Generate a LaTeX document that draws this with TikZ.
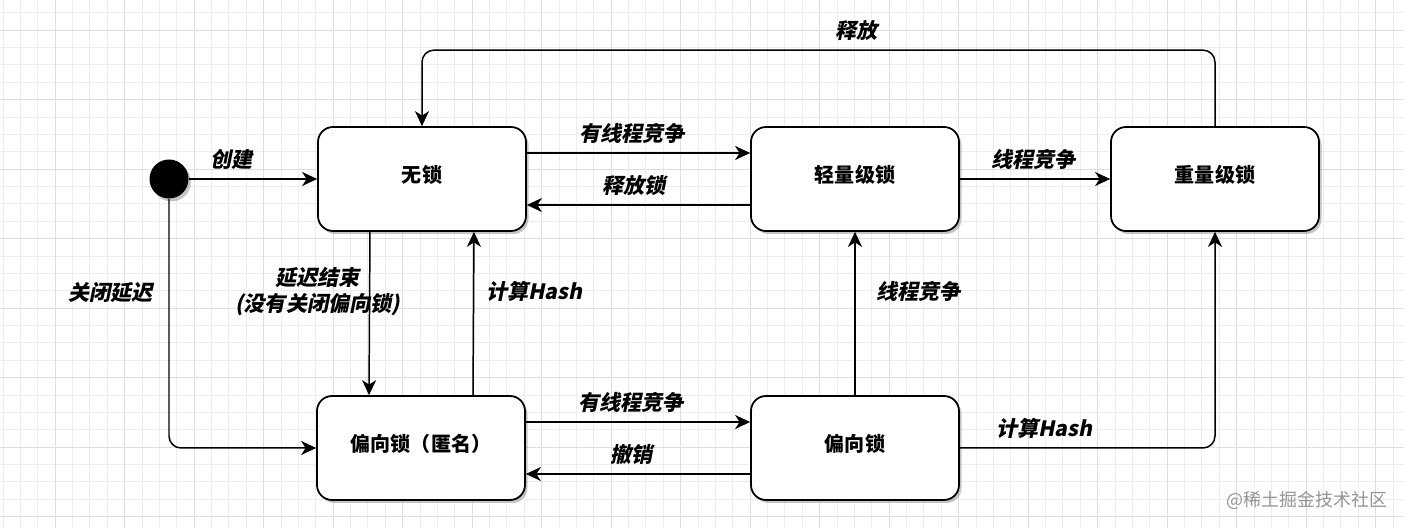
\documentclass[tikz,border=0pt]{standalone}
\usepackage{fontspec}
\usepackage{tikz}
\usetikzlibrary{arrows.meta,shadows,positioning}
\newfontfamily\cjk{Noto Sans CJK SC}
\newfontfamily\cjkit[FakeSlant=0.2]{Noto Sans CJK SC}
\pgfdeclarelayer{bg}
\pgfsetlayers{bg,main}

\begin{document}
\begin{tikzpicture}[
			x=0.2mm, y=-0.2mm,
			every node/.style={font=\cjk\bfseries\fontsize{11.4}{14}\selectfont},
			state/.style={draw, line width=1pt, rounded corners=3mm, fill=white,
				minimum width=41.6mm, minimum height=20.8mm, text height=10pt, text depth=5.6pt,
				drop shadow={shadow xshift=0.5mm, shadow yshift=-0.6mm, fill=black!50, opacity=0.45}},
			lbl/.style={font=\cjkit\bfseries\fontsize{12}{15}\selectfont, align=center},
			edge/.style={line width=0.85pt, rounded corners=2.4mm,
				-{Stealth[length=3mm, width=2.8mm, inset=0.9mm]}},
			gridminor/.style={black!7, line width=0.4pt},
			gridmajor/.style={black!13, line width=0.5pt}
			]
			\def\q{5.2mm}
			\def\h{10.4mm}

			\useasboundingbox (0,0) rectangle (1404,528);
			\begin{pgfonlayer}{bg}
				\fill[white] (0,0) rectangle (1404,528);
				\clip (0,0) rectangle (1404,528);
				\foreach \i in {1,...,81} \draw[gridminor] ({-14.5+\i*17.375},0) -- ++(0,528);
				\foreach \i in {1,...,30} \draw[gridminor] (0,{-4.75+\i*17.375}) -- ++(1404,0);
				\foreach \i in {1,...,20} \draw[gridmajor] ({-14.5+\i*69.5},0) -- ++(0,528);
				\foreach \i in {0,...,7} \draw[gridmajor] (0,{30+\i*69.5}) -- ++(1404,0);
			\end{pgfonlayer}

			\node[circle, fill=black, minimum size=7.8mm, inner sep=0pt,
				drop shadow={shadow xshift=0.5mm, shadow yshift=-0.6mm, fill=black!50, opacity=0.45}] (init) at (169,179) {};

			\node[state] (nolock) at (422,179) {无锁};
			\node[state] (light) at (855,179) {轻量级锁};
			\node[state] (heavy) at (1215,179) {重量级锁};
			\node[state] (anon) at (421,448) {偏向锁（匿名）};
			\node[state] (biased) at (855,448) {偏向锁};

			\draw[edge] (init) -- node[lbl, above=1.5pt, pos=0.33] (lcreate) {创建} (nolock);
			\draw[edge] ([yshift=\q]nolock.east) -- node[lbl, above=1.5pt, pos=0.47] (lcont1) {有线程竞争} ([yshift=\q]light.west);
			\draw[edge] ([yshift=-\q]light.west) -- node[lbl, above=1.5pt, pos=0.52] (lrellock) {释放锁} ([yshift=-\q]nolock.east);
			\draw[edge] (light) -- node[lbl, above=1.5pt, pos=0.49] (lcont2) {线程竞争} (heavy);
			\draw[edge] (heavy.north) -- ([yshift=15.2mm]heavy.north) -| node[lbl, above=1.5pt, pos=0.226] (lrel) {释放} (nolock.north);

			\draw[edge] (init) |- node[lbl, left=2mm, pos=0.188] (lclose) {关闭延迟} (anon);
			\draw[edge] ([xshift=-\h]nolock.south) -- node[lbl, xshift=-\h, pos=0.364] (ldelay) {延迟结束\\(没有关闭偏向锁)} ([xshift=-\h]anon.north);
			\draw[edge] ([xshift=\h]anon.north) -- node[lbl, right=1.2mm, pos=0.636] (lhash1) {计算Hash} ([xshift=\h]nolock.south);

			\draw[edge] ([yshift=\q]anon.east) -- node[lbl, above=1.5pt, pos=0.47] (lcont3) {有线程竞争} ([yshift=\q]biased.west);
			\draw[edge] ([yshift=-\q]biased.west) -- node[lbl, above=1.5pt, pos=0.53] (lrevoke) {撤销} ([yshift=-\q]anon.east);
			\draw[edge] (biased) -- node[lbl, right=3mm, pos=0.636] (lcont4) {线程竞争} (light);
			\draw[edge] (biased) -| node[lbl, above=1.5pt, pos=0.165] (lhash2) {计算Hash} (heavy);

			\node[font=\cjk\fontsize{10.2}{12}\selectfont, text=black!42] (mark) at (1307,500) {@稀土掘金技术社区};

			\end{tikzpicture}
\end{document}
